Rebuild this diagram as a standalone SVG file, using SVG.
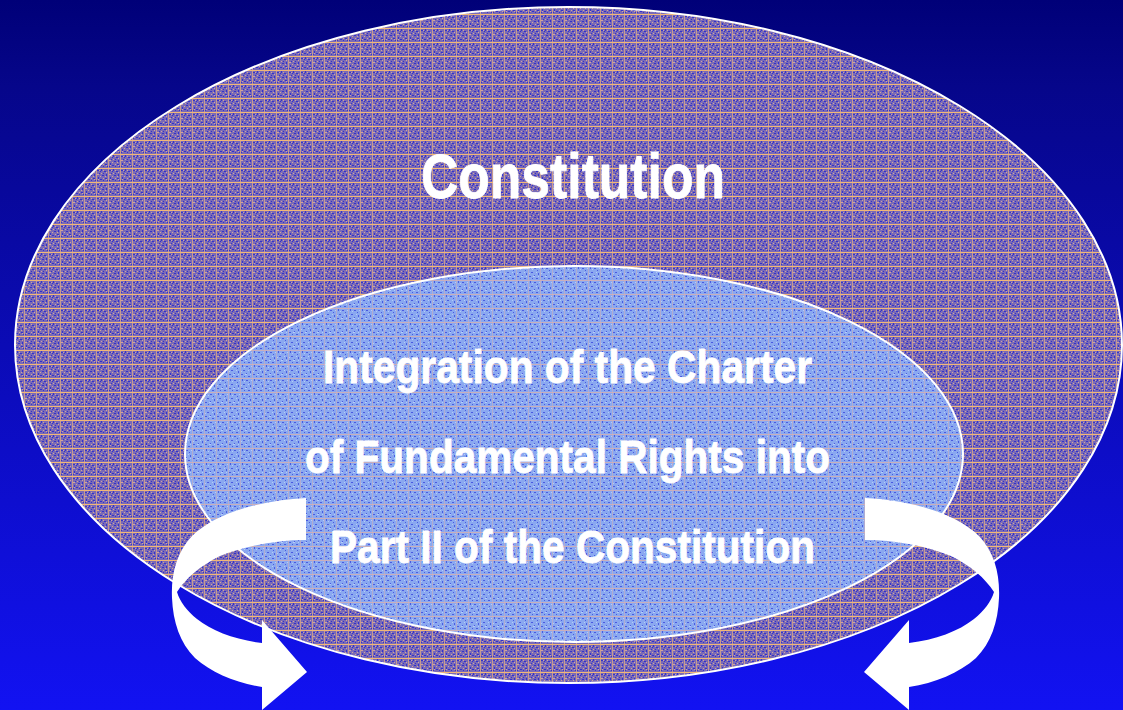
<svg xmlns="http://www.w3.org/2000/svg" width="1123" height="710" viewBox="0 0 1123 710">
  <style>
    .label { font-family: "Liberation Sans", Arial, sans-serif; font-weight: bold; fill: #ffffff; stroke: #ffffff; stroke-width: 0.8; text-anchor: middle; }
    .ring { stroke: #ffffff; stroke-width: 2; }
    .arrow { fill: #ffffff; stroke: none; }
  </style>
  <defs>
    <linearGradient id="bg" x1="0" y1="0" x2="0" y2="1">
      <stop offset="0" stop-color="#000078"/>
      <stop offset="0.12" stop-color="#06068a"/>
      <stop offset="1" stop-color="#1212f2"/>
    </linearGradient>
    <pattern id="outerTex" width="12" height="14" patternUnits="userSpaceOnUse">
      <rect width="12" height="14" fill="#7a6ab6"/>
      <g fill="#3232cc">
        <rect x="1" y="2" width="2" height="1"/><rect x="5" y="1" width="1" height="2"/>
        <rect x="8" y="3" width="2" height="1"/><rect x="3" y="5" width="1" height="1"/>
        <rect x="10" y="6" width="1" height="2"/><rect x="6" y="7" width="2" height="1"/>
        <rect x="2" y="9" width="1" height="2"/><rect x="9" y="10" width="2" height="1"/>
        <rect x="4" y="11" width="2" height="1"/><rect x="7" y="12" width="1" height="1"/>
        <rect x="11" y="12" width="1" height="1"/><rect x="1" y="12" width="1" height="1"/>
        <rect x="7" y="5" width="1" height="1"/><rect x="4" y="3" width="1" height="1"/>
      </g>
      <g fill="#d0a49c">
        <rect x="3" y="2" width="1" height="1"/><rect x="7" y="2" width="1" height="1"/>
        <rect x="10" y="4" width="1" height="1"/><rect x="1" y="6" width="2" height="1"/>
        <rect x="5" y="5" width="1" height="1"/><rect x="9" y="8" width="1" height="1"/>
        <rect x="4" y="8" width="1" height="1"/><rect x="7" y="10" width="1" height="1"/>
        <rect x="2" y="11" width="1" height="1"/><rect x="10" y="11" width="1" height="1"/>
      </g>
      <rect x="0" y="0" width="12" height="1" fill="#f2b878"/>
      <rect x="0" y="0" width="1" height="14" fill="#e8b080" opacity="0.7"/>
    </pattern>
    <pattern id="innerTex" width="12" height="14" patternUnits="userSpaceOnUse">
      <rect width="12" height="14" fill="#8aa8f0"/>
      <g fill="#4a5ae0">
        <rect x="2" y="1" width="1" height="2"/><rect x="6" y="2" width="2" height="1"/>
        <rect x="9" y="4" width="1" height="1"/><rect x="3" y="6" width="2" height="1"/>
        <rect x="10" y="7" width="1" height="2"/><rect x="6" y="9" width="1" height="1"/>
        <rect x="1" y="10" width="2" height="1"/><rect x="8" y="12" width="2" height="1"/>
        <rect x="4" y="12" width="1" height="1"/>
      </g>
      <g fill="#b4ccf8">
        <rect x="4" y="3" width="1" height="1"/><rect x="8" y="6" width="1" height="1"/>
        <rect x="1" y="7" width="1" height="1"/><rect x="5" y="10" width="2" height="1"/>
        <rect x="10" y="10" width="1" height="1"/><rect x="11" y="2" width="1" height="1"/>
      </g>
      <rect x="0" y="0" width="12" height="1" fill="#d8b0b0" opacity="0.8"/>
      <rect x="0" y="0" width="1" height="14" fill="#d8b0b0" opacity="0.5"/>
    </pattern>
  </defs>

  <g id="background">
    <rect x="0" y="0" width="1123" height="710" fill="url(#bg)"/>
  </g>

  <g id="constitution">
    <ellipse class="ring" cx="568.5" cy="345" rx="553.5" ry="338" fill="url(#outerTex)"/>
    <text class="label" x="573" y="198" font-size="63" textLength="304" lengthAdjust="spacingAndGlyphs">Constitution</text>
  </g>

  <g id="charter">
    <ellipse class="ring" cx="574" cy="454" rx="389" ry="188" fill="url(#innerTex)"/>
    <text class="label" x="567.5" y="383" font-size="46" textLength="489" lengthAdjust="spacingAndGlyphs">Integration of the Charter</text>
    <text class="label" x="567.5" y="473" font-size="46" textLength="525" lengthAdjust="spacingAndGlyphs">of Fundamental Rights into</text>
    <text class="label" x="572.5" y="563" font-size="46" textLength="485" lengthAdjust="spacingAndGlyphs">Part II of the Constitution</text>
  </g>

  <g id="connectors">
    <path id="arrow-left" class="arrow" d="M306,498 C262,500 215,513 192,536 C176,553 171,575 172,598 C173,622 180,643 195,658 C212,673 236,683 262,687 L262,710 L307,672 L262,620 L262,643 C236,640 212,631 197,619 C187,611 180,602 177,592 C186,578 200,566 220,556 C245,546 275,540 306,540 Z"/>
    <path id="arrow-right" class="arrow" transform="translate(1171,0) scale(-1,1)" d="M306,498 C262,500 215,513 192,536 C176,553 171,575 172,598 C173,622 180,643 195,658 C212,673 236,683 262,687 L262,710 L307,672 L262,620 L262,643 C236,640 212,631 197,619 C187,611 180,602 177,592 C186,578 200,566 220,556 C245,546 275,540 306,540 Z"/>
  </g>
</svg>
